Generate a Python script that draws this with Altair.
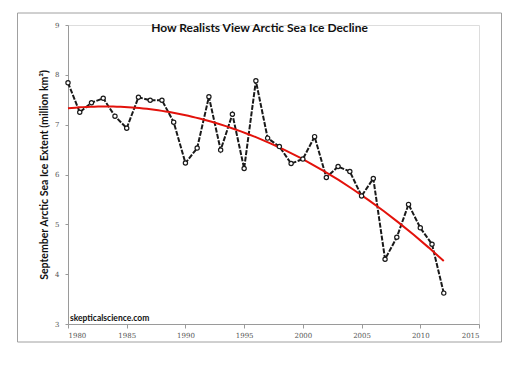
import altair as alt
import pandas as pd

years = list(range(1980, 2013))
extent = [7.84, 7.25, 7.44, 7.53, 7.17, 6.93, 7.55, 7.49, 7.49, 7.05,
          6.23, 6.53, 7.56, 6.49, 7.21, 6.12, 7.88, 6.73, 6.56, 6.22,
          6.31, 6.76, 5.94, 6.16, 6.06, 5.57, 5.92, 4.30, 4.74, 5.40,
          4.93, 4.60, 3.62]

df = pd.DataFrame({"year": years, "extent": extent})

W, H = 411, 299

xscale = alt.Scale(domain=[1980, 2015], nice=False, zero=False)
yscale = alt.Scale(domain=[3, 9], nice=False, zero=False)

xaxis = alt.Axis(values=list(range(1980, 2016, 5)), format="d", title=None,
                 grid=False, domainColor="#9a9a9a", tickColor="#9a9a9a",
                 tickSize=4, labelFontSize=7, labelColor="#555555",
                 labelFont="DejaVu Serif", labelPadding=3)
yaxis = alt.Axis(values=list(range(3, 10)), format="d",
                 title="September Arctic Sea Ice Extent (million km²)",
                 grid=False, domainColor="#9a9a9a", tickColor="#9a9a9a",
                 tickSize=3, labelFontSize=7, labelColor="#555555",
                 labelFont="DejaVu Serif", labelPadding=6,
                 titleFont="Lato", titleFontSize=10.5, titleFontWeight="bold",
                 titleColor="#111111", titlePadding=5)

base = alt.Chart(df)

frame = base.mark_rect(fill=None, stroke="#a0a0a0", strokeWidth=1).encode(
    x=alt.value(-50.5), x2=alt.value(433.5),
    y=alt.value(-12), y2=alt.value(317)
).transform_filter(alt.datum.year == 1980)

line = base.mark_line(color="#1a1a1a", strokeWidth=2, strokeDash=[5, 1.5]).encode(
    x=alt.X("year:Q", scale=xscale, axis=xaxis),
    y=alt.Y("extent:Q", scale=yscale, axis=yaxis),
)

points = base.mark_point(shape="circle", filled=True, fill="white",
                         stroke="#1a1a1a", strokeWidth=1.2, size=18,
                         opacity=1).encode(
    x=alt.X("year:Q", scale=xscale),
    y=alt.Y("extent:Q", scale=yscale),
)

trend = base.transform_regression("year", "extent", method="poly", order=2).mark_line(
    color="#e3120b", strokeWidth=2).encode(
    x=alt.X("year:Q", scale=xscale),
    y=alt.Y("extent:Q", scale=yscale),
)

credit = base.mark_text(text="skepticalscience.com", align="left", baseline="middle",
                        font="Lato", fontWeight="bold", fontSize=8.5,
                        color="#111111").encode(
    x=alt.value(2), y=alt.value(293)
).transform_filter(alt.datum.year == 1980)

chart = alt.layer(frame, line, trend, points, credit).properties(
    width=W, height=H,
    title=alt.TitleParams("How Realists View Arctic Sea Ice Decline",
                          font="Lato", fontSize=12, fontWeight="bold",
                          color="#111111", anchor="middle", dx=-14, offset=-22),
    autosize=alt.AutoSizeParams(type="none"),
    padding={"left": 60, "top": 17, "right": 30, "bottom": 40},
).configure_view(stroke=None).configure(background="white")

chart.save("out.html", embed_options={"renderer": "svg", "actions": False})
